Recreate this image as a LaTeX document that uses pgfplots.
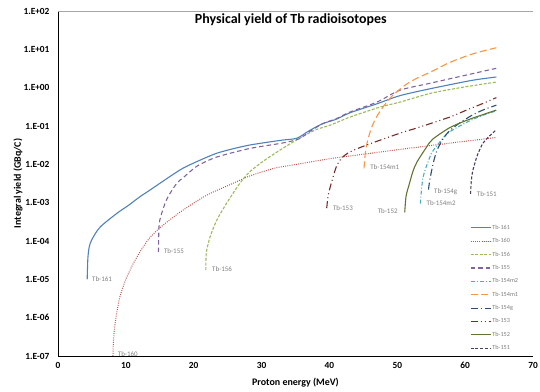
\documentclass[border=0pt]{standalone}
\usepackage{fontspec}
\setmainfont{Carlito}
\usepackage{pgfplots}
\pgfplotsset{compat=1.18}

\definecolor{c161}{HTML}{4F81BD}
\definecolor{c160}{HTML}{C0504D}
\definecolor{c156}{HTML}{9BBB59}
\definecolor{c155}{HTML}{8064A2}
\definecolor{c154mb}{HTML}{4BACC6}
\definecolor{c154ma}{HTML}{F79646}
\definecolor{c154g}{HTML}{2C4D75}
\definecolor{c153}{HTML}{772C2A}
\definecolor{c152}{HTML}{5F7530}
\definecolor{c151}{HTML}{4D3B62}
\definecolor{lblgray}{HTML}{7F7F7F}

\begin{document}
\begin{tikzpicture}
\useasboundingbox (0bp,0bp) rectangle (540bp,392bp);
\begin{axis}[
  at={(58bp,36bp)}, anchor=south west,
  scale only axis, width=475bp, height=345bp,
  xmin=0, xmax=70, ymode=log, ymin=1e-7, ymax=1e2,
  axis x line*=bottom, axis y line*=left,
  axis line style={black, line width=0.9bp, -},
  tick style={draw=none},
  xtick={0,10,20,30,40,50,60,70},
  ytick={1e-7,1e-6,1e-5,1e-4,1e-3,1e-2,1e-1,1,1e1,1e2},
  yticklabels={1.E-07,1.E-06,1.E-05,1.E-04,1.E-03,1.E-02,1.E-01,1.E+00,1.E+01,1.E+02},
  /pgf/number format/assume math mode=true,
  ticklabel style={font=\bfseries\fontsize{9.4}{11}\selectfont},
  yticklabel style={xshift=-5bp},
  xticklabel style={yshift=-2.5bp},
  xlabel={Proton energy (MeV)},
  ylabel={Integral yield (GBq/C)},
  label style={font=\bfseries\fontsize{10}{12}\selectfont},
  xlabel style={at={(axis description cs:0.5,-0.078)}, anchor=center},
  ylabel style={at={(axis description cs:-0.084,0.5)}, anchor=center},
  every axis plot/.append style={line width=1.1bp, smooth, tension=0.45},
  legend cell align=left,
  legend style={at={(axis description cs:0.865,0.387)}, anchor=north west,
    draw=none, fill=white, font=\fontsize{6.2}{7}\selectfont, text=lblgray,
    row sep=5bp, inner sep=1bp,
    nodes={inner sep=1.3bp}},
  legend image code/.code={\draw[#1, smooth=false] (0bp,0bp) -- (20bp,0bp);},
]
% Tb-161
\addplot[c161] coordinates {
 (4.3,1e-5) (4.4,3.5e-5) (4.6,7e-5) (5.0,1.1e-4) (6.2,2.3e-4) (8.7,5.3e-4)
 (10.5,8.8e-4) (12,1.4e-3) (13.5,2.1e-3) (16,4.2e-3) (18.4,7.9e-3) (21,0.013)
 (23.4,0.0195) (26,0.026) (28.3,0.032) (31,0.038) (33.1,0.043) (35.2,0.048)
 (37,0.075) (39,0.115) (41,0.15) (43,0.22) (47,0.38) (50.4,0.62) (55,0.95)
 (61,1.55) (64.6,1.9)};
\addlegendentry{Tb-161}
% Tb-160
\addplot[c160, line width=1.0bp, dash pattern=on 0.9bp off 1.3bp] coordinates {
 (8.1,1e-7) (8.2,3e-7) (8.5,9e-7) (9.1,3.4e-6) (10,1e-5) (11.1,2.6e-5)
 (12.3,6e-5) (13.5,1.2e-4) (15,2.2e-4) (17,4.2e-4) (19,7.5e-4) (22,1.6e-3)
 (25.8,3.2e-3) (28.3,5e-3) (32,8e-3) (35.6,0.0103) (40,0.014) (44,0.0174)
 (50,0.024) (55,0.031) (60,0.04) (64.6,0.05)};
\addlegendentry{Tb-160}
% Tb-156
\addplot[c156, dash pattern=on 3bp off 1.6bp] coordinates {
 (21.8,1.74e-5) (21.85,4.8e-5) (22.4,1.26e-4) (23.4,3.5e-4) (24.9,1e-3)
 (26.8,3.2e-3) (28.3,6.5e-3) (30.5,0.013) (33.1,0.026) (35.6,0.048) (38,0.08)
 (40.1,0.105) (43,0.17) (47.4,0.31) (50.4,0.42) (55,0.72) (60,1.05) (64.6,1.4)};
\addlegendentry{Tb-156}
% Tb-155
\addplot[c155, dash pattern=on 4.5bp off 3bp] coordinates {
 (14.8,5.1e-5) (14.85,1.5e-4) (15.0,3.5e-4) (16,1.2e-3) (17.5,3.2e-3)
 (18.4,4.4e-3) (20.5,9e-3) (23.4,0.0155) (28.3,0.026) (33.1,0.036)
 (35.5,0.046) (37,0.07) (39,0.115) (41,0.155) (43,0.23) (47,0.42)
 (50.4,0.86) (54.8,1.3) (60,2.1) (64.6,3.2)};
\addlegendentry{Tb-155}
% Tb-154m2
\addplot[c154mb, dash pattern=on 4bp off 2bp on 1bp off 2bp] coordinates {
 (53.4,9.5e-4) (53.6,2.5e-3) (53.8,4.6e-3) (54.2,8e-3) (54.8,0.0155)
 (55.3,0.023) (57.3,0.062) (59.2,0.1) (61,0.145) (62.6,0.19) (64.6,0.25)};
\addlegendentry{Tb-154m2}
% Tb-154m1
\addplot[c154ma, dash pattern=on 7bp off 3.5bp] coordinates {
 (45.1,0.0079) (45.3,0.02) (45.6,0.04) (46.2,0.09) (47,0.18) (48,0.33)
 (49,0.55) (50,0.8) (51.4,1.25) (53,1.8) (55,2.6) (57.3,4.2) (59,5.6)
 (61.1,7.6) (63,9.4) (64.6,11)};
\addlegendentry{Tb-154m1}
% Tb-154g
\addplot[c154g, dash pattern=on 7bp off 3bp on 1bp off 3bp] coordinates {
 (54.6,2.2e-3) (54.8,4e-3) (55.3,0.0107) (55.8,0.022) (56.7,0.045)
 (57.7,0.075) (59.2,0.12) (61,0.19) (62.6,0.26) (64.6,0.35)};
\addlegendentry{Tb-154g}
% Tb-153
\addplot[c153, dash pattern=on 7bp off 3bp on 1bp off 3bp on 1bp off 3bp] coordinates {
 (39.6,7.2e-4) (39.8,1.5e-3) (40.1,2.5e-3) (41,8.5e-3) (41.8,0.0145)
 (43,0.021) (45.5,0.032) (50.4,0.065) (52.9,0.089) (57.7,0.17) (60.2,0.26)
 (62.5,0.38) (64.6,0.55)};
\addlegendentry{Tb-153}
% Tb-152
\addplot[c152] coordinates {
 (51.1,5.6e-4) (51.3,1.5e-3) (51.8,3.2e-3) (52.3,6.5e-3) (52.9,0.0115)
 (54.3,0.028) (55.2,0.045) (57.7,0.09) (60.2,0.14) (62.5,0.195) (64.6,0.26)};
\addlegendentry{Tb-152}
% Tb-151
\addplot[c151, dash pattern=on 3bp off 1.8bp] coordinates {
 (60.8,1.7e-3) (60.9,3.5e-3) (61.1,6.5e-3) (61.7,0.0155) (62.1,0.023)
 (62.6,0.035) (63.5,0.053) (64.6,0.08)};
\addlegendentry{Tb-151}

% frame on the open sides
\draw[gray!70, line width=0.9bp] (rel axis cs:0,1) -- (rel axis cs:1,1) -- (rel axis cs:1,0);

% chart title
\node[font=\bfseries\fontsize{14}{16}\selectfont] at (axis description cs:0.49,0.975) {Physical yield of Tb radioisotopes};

% curve labels
\begin{scope}[every node/.style={font=\fontsize{7}{8}\selectfont, text=lblgray, anchor=west, inner sep=0pt}]
\node at (axis cs:5.0,1e-5) {Tb-161};
\node at (axis cs:8.8,1.1e-7) {Tb-160};
\node at (axis cs:15.6,5.4e-5) {Tb-155};
\node at (axis cs:22.7,1.9e-5) {Tb-156};
\node at (axis cs:46.0,8.5e-3) {Tb-154m1};
\node at (axis cs:40.5,7.2e-4) {Tb-153};
\node at (axis cs:47.1,6e-4) {Tb-152};
\node at (axis cs:55.4,1.9e-3) {Tb-154g};
\node at (axis cs:54.3,9.7e-4) {Tb-154m2};
\node at (axis cs:61.7,1.7e-3) {Tb-151};
\end{scope}
\end{axis}
\end{tikzpicture}
\end{document}
